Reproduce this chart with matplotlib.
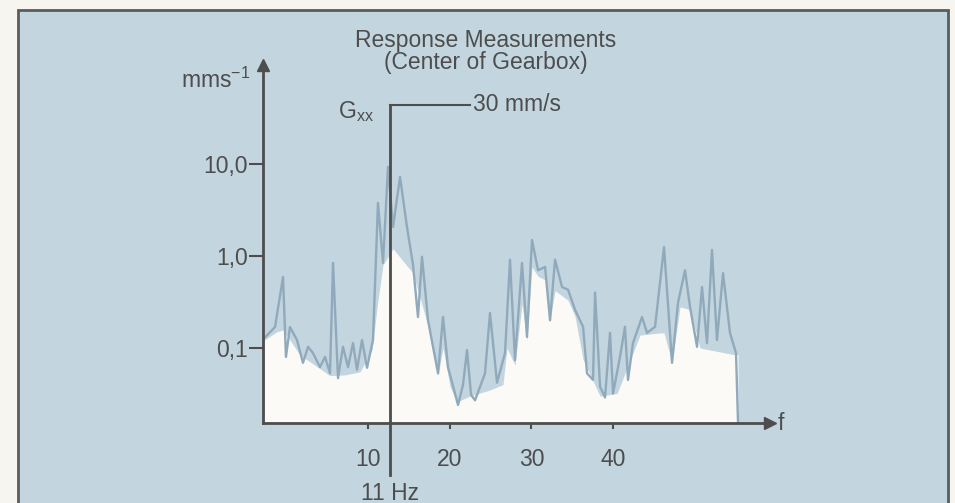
import matplotlib.pyplot as plt
import matplotlib.transforms as mtransforms
from matplotlib.patches import Rectangle
from matplotlib.ticker import NullLocator

# spectrum trace G_xx, frequency (Hz) vs velocity (mm/s)
freq = [-2.7, -1.38, -0.40, -0.04, 0.45, 1.31, 2.04, 2.66, 3.27, 4.12, 4.74, 5.35,
        5.72, 6.33, 6.94, 7.55, 8.17, 8.65, 9.27, 9.88, 10.61, 11.22, 11.84, 12.45,
        13.06, 13.92, 14.77, 15.51, 16.12, 16.61, 17.35, 18.57, 19.18, 19.79, 21.02,
        21.63, 22.12, 22.61, 23.10, 24.32, 24.93, 25.79, 26.77, 27.38, 27.99, 28.85,
        29.46, 30.07, 30.81, 31.67, 32.28, 32.89, 33.75, 34.48, 35.34, 36.32, 36.81,
        37.54, 37.79, 38.40, 39.01, 39.62, 39.99, 40.84, 41.45, 41.82, 42.43, 43.54,
        44.15, 45.13, 46.23, 47.21, 47.94, 48.80, 49.41, 50.27, 50.88, 51.49, 52.10,
        52.71, 53.45, 54.30, 55.04, 55.29]
gxx = [0.128, 0.169, 0.59, 0.080, 0.169, 0.122, 0.069, 0.103, 0.088, 0.062, 0.080, 0.053,
       0.84, 0.047, 0.103, 0.062, 0.113, 0.058, 0.122, 0.061, 0.122, 3.77, 0.84, 9.3,
       2.07, 7.2, 2.07, 0.80, 0.217, 0.98, 0.20, 0.053, 0.217, 0.062, 0.024,
       0.040, 0.095, 0.031, 0.027, 0.053, 0.24, 0.042, 0.088, 0.91, 0.074, 0.84,
       0.132, 1.49, 0.70, 0.76, 0.20, 0.91, 0.46, 0.43, 0.26, 0.17, 0.053,
       0.045, 0.40, 0.038, 0.029, 0.146, 0.032, 0.080, 0.17, 0.045, 0.113, 0.217,
       0.146, 0.17, 1.25, 0.069, 0.31, 0.70, 0.28, 0.103, 0.46, 0.113, 1.16,
       0.122, 0.65, 0.146, 0.088, 0.015]

# upper edge of the white area under the trace
freq_floor = [-2.7, -1.14, -0.40, 0.45, 1.67, 3.51, 5.35, 7.19, 9.02, 10.49, 11.22, 11.84,
              13.06, 15.51, 17.22, 18.57, 19.18, 20.04, 20.90, 22.49, 24.93, 26.52, 27.01,
              27.99, 28.85, 29.46, 30.07, 30.81, 31.67, 32.28, 32.89, 34.48, 35.34, 36.32,
              38.40, 40.48, 41.70, 43.29, 45.74, 46.23, 47.21, 48.19, 49.41, 50.64, 54.67,
              55.29]
gxx_floor = [0.122, 0.15, 0.157, 0.122, 0.084, 0.065, 0.05, 0.051, 0.055, 0.095, 0.33, 0.80,
             1.2, 0.65, 0.19, 0.05, 0.10, 0.038, 0.026, 0.030, 0.035, 0.040, 0.10,
             0.065, 0.30, 0.12, 0.76, 0.6, 0.55, 0.2, 0.42, 0.33, 0.22, 0.075,
             0.03, 0.032, 0.06, 0.138, 0.146, 0.146, 0.069, 0.28, 0.26, 0.10, 0.085,
             0.085]

y_ticks = [0.1, 1.0, 10.0]
y_labels = ["0,1", "1,0", "10,0"]
x_ticks = [10, 20, 30, 40]
x_labels = ["10", "20", "30", "40"]

# the "11 Hz / 30 mm/s" marker, placed where the drawing has it
marker_f = 12.7
marker_level = 44.0
marker_end = 22.5
marker_bottom = 0.0042

bg = "#c3d5de"
ink = "#4d4d4d"
trace = "#90aabc"
W, H = 955, 503
fs = 16.5

plt.rcParams["font.family"] = ["Liberation Sans", "DejaVu Sans"]
plt.rcParams["mathtext.fontset"] = "custom"
plt.rcParams["mathtext.rm"] = "Liberation Sans"
plt.rcParams["mathtext.it"] = "Liberation Sans"

fig = plt.figure(figsize=(W / 100, H / 100), dpi=100)
fig.patch.set_facecolor("#f7f5ef")
fig.patches.append(Rectangle((18 / W, -0.05), (948 - 18) / W, 1 - 10 / H + 0.05,
                             transform=fig.transFigure, facecolor=bg,
                             edgecolor="#5b5b5b", lw=2, zorder=-5))

ax = fig.add_axes([263 / W, 1 - 423 / H, (770 - 263) / W, (423 - 65) / H])
ax.set_zorder(2)
ax.set_facecolor("none")
ax.set_yscale("log")
ax.set_xlim(-2.85, 59.2)
ax.set_ylim(0.0153, 119)

for s in ["top", "right"]:
    ax.spines[s].set_visible(False)
for s in ["left", "bottom"]:
    ax.spines[s].set_color(ink)
    ax.spines[s].set_linewidth(2)
# arrow heads on the axes
ax.plot([1], [0], ">", color=ink, ms=9, transform=ax.transAxes, clip_on=False)
ax.plot([0], [1], "^", color=ink, ms=9, transform=ax.transAxes, clip_on=False)

ax.fill_between(freq_floor, gxx_floor, 1e-3, color="#fbfaf6", lw=0, zorder=1)
ax.plot(freq, gxx, color=trace, lw=1.7, zorder=2)

# marker line at the peak
ax.plot([marker_f, marker_f], [marker_bottom, marker_level], color=ink, lw=2,
        clip_on=False, zorder=3)
ax.plot([marker_f, marker_end], [marker_level, marker_level], color=ink, lw=1.5,
        clip_on=False, zorder=3)
trans = mtransforms.blended_transform_factory(ax.transData, ax.transAxes)
ax.text(marker_f, -0.196, "11 Hz", transform=trans, ha="center", va="center",
        color=ink, fontsize=fs)
ax.annotate(r"G$_{\mathrm{xx}}$", xy=(marker_f, marker_level), xytext=(-12, -5),
            textcoords="offset points", ha="right", va="center", color=ink, fontsize=fs)
ax.annotate("30 mm/s", xy=(marker_end, marker_level), xytext=(2, 0),
            textcoords="offset points", ha="left", va="center", color=ink, fontsize=fs)

ax.set_yticks(y_ticks, y_labels)
ax.yaxis.set_minor_locator(NullLocator())
ax.set_xticks(x_ticks, x_labels)
ax.tick_params(axis="y", direction="out", length=10, width=1.5, pad=1,
               colors=ink, labelsize=fs)
ax.tick_params(axis="x", direction="out", length=4, width=1.5, pad=14,
               colors=ink, labelsize=fs)

fig.text(250 / W, 1 - 80 / H, r"mms$^{-1}$", ha="right", va="center", color=ink, fontsize=fs)
fig.text(778 / W, 1 - 423 / H, "f", ha="left", va="center", color=ink, fontsize=fs)
fig.text(486 / W, 1 - 41 / H, "Response Measurements", ha="center", va="center",
         color=ink, fontsize=fs)
fig.text(486 / W, 1 - 63 / H, "(Center of Gearbox)", ha="center", va="center",
         color=ink, fontsize=fs)

fig.savefig("out.png", dpi=100, facecolor=fig.get_facecolor())
